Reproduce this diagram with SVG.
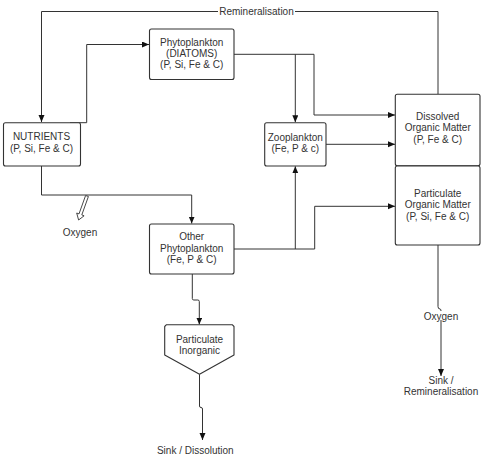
<svg xmlns="http://www.w3.org/2000/svg" width="488" height="462" viewBox="0 0 488 462">
<style>
.box{fill:#fff;stroke:#333;stroke-width:1.1;stroke-linejoin:round}
.ln{fill:none;stroke:#333;stroke-width:1}
.t{font-family:"Liberation Sans",Arial,sans-serif;font-size:10px;fill:#333;text-anchor:middle}
</style>
<defs>
<marker id="ah" markerUnits="userSpaceOnUse" markerWidth="8" markerHeight="8" refX="7" refY="3" orient="auto">
<path d="M0,0 L7,3 L0,6 Z" fill="#111"/>
</marker>
</defs>
<rect width="488" height="462" fill="#fff"/>
<g id="connectors">
<path class="ln" d="M438 94 V11.5 H41.5 V122" marker-end="url(#ah)"/>
<path class="ln" d="M70 122.7 H86.7 V44.5 H149" marker-end="url(#ah)"/>
<path class="ln" d="M41.5 166 V195 H191.7 V223.5" marker-end="url(#ah)"/>
<path class="ln" d="M234 54.3 H314 V115 H395" marker-end="url(#ah)"/>
<path class="ln" d="M295.3 54.3 V122.2" marker-end="url(#ah)"/>
<path class="ln" d="M326 144.3 H395" marker-end="url(#ah)"/>
<path class="ln" d="M234 249 H314.7 V206.3 H395" marker-end="url(#ah)"/>
<path class="ln" d="M295.3 249 V166.3" marker-end="url(#ah)"/>
<path class="ln" d="M192.3 274 V298.5 Q192.3 300 193.8 300 H197.8 Q199.3 300 199.3 301.5 V324.5" marker-end="url(#ah)"/>
<path class="ln" d="M199.5 374.3 V406 Q199.5 407.5 201 407.5 Q202.5 407.5 202.5 409 V440" marker-end="url(#ah)"/>
<path class="ln" d="M438 245 V306.5 Q438 309 440 309 Q441 309 441 311 V376" marker-end="url(#ah)"/>
<polygon points="88.4,196.5 81.8,214.9 84.1,215.8 78.6,220 76.7,213 79,213.9 85.6,195.5" fill="#fff" stroke="#333" stroke-width="0.9" stroke-linejoin="miter"/>
<rect x="218" y="5" width="77" height="12" fill="#fff"/>
<text class="t" x="256.5" y="14.5">Remineralisation</text>
<rect x="423" y="311" width="36" height="9" fill="#fff"/>
<text class="t" x="441" y="319.5">Oxygen</text>
</g>
<g id="nutrients">
<rect class="box" x="3.5" y="122.7" width="77" height="43.3" rx="2"/>
<text class="t" x="41.5" y="140.3">NUTRIENTS</text>
<text class="t" x="41.5" y="151.6">(P, Si, Fe &amp; C)</text>
</g>
<g id="diatoms">
<rect class="box" x="149.5" y="29" width="84.5" height="50.5" rx="2"/>
<text class="t" x="191.7" y="45.6">Phytoplankton</text>
<text class="t" x="191.7" y="56.9">(DIATOMS)</text>
<text class="t" x="191.7" y="68.3">(P, Si, Fe &amp; C)</text>
</g>
<g id="zooplankton">
<rect class="box" x="264.7" y="122.7" width="61.3" height="43.3" rx="2"/>
<text class="t" x="295.3" y="140.6">Zooplankton</text>
<text class="t" x="295.3" y="151.6">(Fe, P &amp; c)</text>
</g>
<g id="dom">
<rect class="box" x="395.3" y="94.3" width="84.7" height="71.4" rx="2"/>
<text class="t" x="437.7" y="120.3">Dissolved</text>
<text class="t" x="437.7" y="131.3">Organic Matter</text>
<text class="t" x="437.7" y="142.9">(P, Fe &amp; C)</text>
</g>
<g id="pom">
<rect class="box" x="395.3" y="166" width="84.7" height="79" rx="2"/>
<text class="t" x="437.7" y="196.9">Particulate</text>
<text class="t" x="437.7" y="207.9">Organic Matter</text>
<text class="t" x="437.7" y="219.6">(P, Si, Fe &amp; C)</text>
</g>
<g id="other-phyto">
<rect class="box" x="149.5" y="224" width="84.5" height="50" rx="2"/>
<text class="t" x="191.7" y="239.6">Other</text>
<text class="t" x="191.7" y="251.6">Phytoplankton</text>
<text class="t" x="191.7" y="263.3">(Fe, P &amp; C)</text>
</g>
<g id="particulate-inorganic">
<polygon class="box" points="166.5,324.7 232.2,324.7 234,326.5 234,355 199.5,374.3 164.7,355 164.7,326.5"/>
<text class="t" x="199.5" y="342.6">Particulate</text>
<text class="t" x="199.5" y="353.6">Inorganic</text>
</g>
<g id="labels">
<text class="t" x="80" y="235.5">Oxygen</text>
<text class="t" x="441" y="383.6">Sink /</text>
<text class="t" x="441" y="394.6">Remineralisation</text>
<text class="t" x="195.3" y="453.6">Sink / Dissolution</text>
</g>
</svg>
